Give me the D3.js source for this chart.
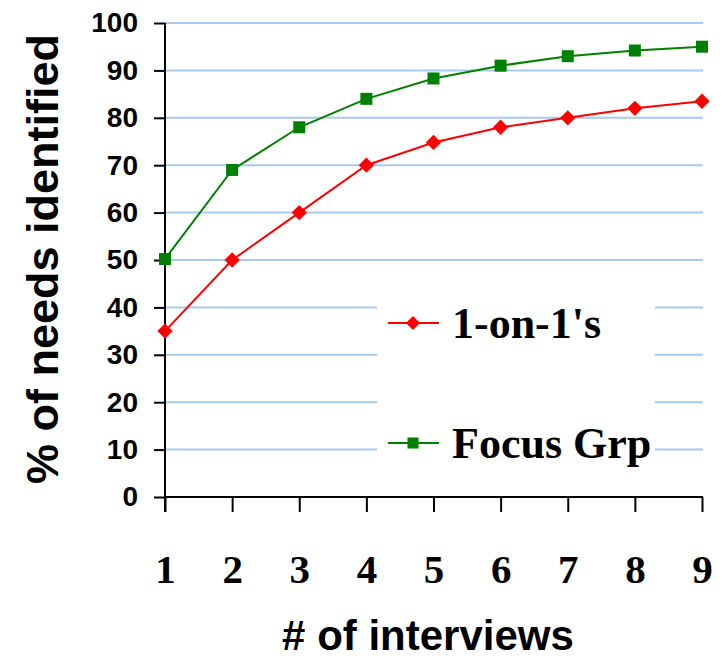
<!DOCTYPE html>
<html>
<head>
<meta charset="utf-8">
<script src="https://cdn.jsdelivr.net/npm/d3@7"></script>
<style>
  body { margin: 0; background: #fff; }
  svg { display: block; }
</style>
</head>
<body>
<svg id="drawing_region"></svg>
<script>
// data
const interviews = [1, 2, 3, 4, 5, 6, 7, 8, 9];
const oneOnOne = [35, 50, 60, 70, 74.8, 78, 80, 82, 83.5];
const focusGrp = [50.2, 69, 78, 84, 88.3, 91, 93, 94.2, 95];
const yTicks = [0, 10, 20, 30, 40, 50, 60, 70, 80, 90, 100];
const seriesNames = ["1-on-1's", "Focus Grp"];

const config = {
    width: 723,
    height: 658,
    margin: {top: 23, right: 21, bottom: 161, left: 165}
};

const svg = d3.select('#drawing_region')
    .attr('width', config.width)
    .attr('height', config.height);

const inner_width = config.width - config.margin.left - config.margin.right;
const inner_height = config.height - config.margin.top - config.margin.bottom;

const chart = svg.append('g')
    .attr('transform', `translate(${config.margin.left}, ${config.margin.top})`);

const xscale = d3.scaleLinear()
    .domain([1, 9])
    .range([0, inner_width]);

const yscale = d3.scaleLinear()
    .domain([0, 100])
    .range([inner_height, 0]);

// gridlines
chart.append('g')
    .selectAll('line')
    .data(yTicks.filter(d => d > 0))
    .enter()
    .append('line')
    .attr('x1', 0)
    .attr('x2', inner_width + 1)
    .attr('y1', d => yscale(d))
    .attr('y2', d => yscale(d))
    .attr('stroke', '#a9c9ef')
    .attr('stroke-width', 2);

// legend box (white, covers gridlines)
chart.append('rect')
    .attr('x', 377 - config.margin.left)
    .attr('y', 262 - config.margin.top)
    .attr('width', 278)
    .attr('height', 228)
    .attr('fill', '#fff');

// axes
const yaxis = d3.axisLeft(yscale)
    .tickValues(yTicks)
    .tickSize(11)
    .tickPadding(16);

const xaxis = d3.axisBottom(xscale)
    .tickValues(interviews)
    .tickSize(15)
    .tickPadding(42)
    .tickFormat(d3.format('d'));

const yaxis_group = chart.append('g').call(yaxis);
yaxis_group.select('.domain').remove();
yaxis_group.selectAll('.tick line').attr('stroke', '#000').attr('stroke-width', 2);
yaxis_group.selectAll('.tick text')
    .attr('fill', '#000')
    .style('font-family', '"Liberation Sans", Arial, sans-serif')
    .style('font-weight', 'bold')
    .style('font-size', '28px');

const xaxis_group = chart.append('g')
    .attr('transform', `translate(0, ${inner_height})`)
    .call(xaxis);
xaxis_group.select('.domain').remove();
xaxis_group.selectAll('.tick line').attr('stroke', '#000').attr('stroke-width', 2);
xaxis_group.selectAll('.tick text')
    .attr('fill', '#000')
    .style('font-family', '"Liberation Serif", "Times New Roman", serif')
    .style('font-weight', 'bold')
    .style('font-size', '41px');

// axis lines
chart.append('line')
    .attr('x1', 0).attr('x2', 0)
    .attr('y1', 0).attr('y2', inner_height + 15)
    .attr('stroke', '#000').attr('stroke-width', 2);
chart.append('line')
    .attr('x1', 0).attr('x2', inner_width + 1)
    .attr('y1', inner_height).attr('y2', inner_height)
    .attr('stroke', '#000').attr('stroke-width', 2);

// series
const line = d3.line()
    .x((d, i) => xscale(interviews[i]))
    .y(d => yscale(d));

const series = [
    {name: seriesNames[0], values: oneOnOne, color: '#ff0000', symbol: d3.symbolDiamond2, size: 150},
    {name: seriesNames[1], values: focusGrp, color: '#008000', symbol: d3.symbolSquare, size: 144}
];

series.forEach(s => {
    chart.append('path')
        .datum(s.values)
        .attr('d', line)
        .attr('fill', 'none')
        .attr('stroke', s.color)
        .attr('stroke-width', 2);

    chart.selectAll(null)
        .data(s.values)
        .enter()
        .append('path')
        .attr('transform', (d, i) => `translate(${xscale(interviews[i])}, ${yscale(d)})`)
        .attr('d', d3.symbol().type(s.symbol).size(s.size))
        .attr('fill', s.color);
});

// legend
const legend = svg.append('g');
series.forEach((s, i) => {
    const ly = [323, 443][i];
    const g = legend.append('g').attr('transform', `translate(388, ${ly})`);
    g.append('line')
        .attr('x1', 0).attr('x2', 51)
        .attr('y1', 0).attr('y2', 0)
        .attr('stroke', s.color).attr('stroke-width', 2);
    g.append('path')
        .attr('transform', 'translate(25, 0)')
        .attr('d', d3.symbol().type(s.symbol).size(s.size * 0.85))
        .attr('fill', s.color);
    g.append('text')
        .attr('x', 64)
        .attr('y', 15)
        .text(s.name)
        .style('font-family', '"Liberation Serif", "Times New Roman", serif')
        .style('font-weight', 'bold')
        .style('font-size', '44px');
});

// axis titles
svg.append('text')
    .attr('x', 428)
    .attr('y', 650)
    .attr('text-anchor', 'middle')
    .text('# of interviews')
    .style('font-family', '"Liberation Sans", Arial, sans-serif')
    .style('font-weight', 'bold')
    .style('font-size', '42px');

svg.append('text')
    .attr('transform', 'translate(58, 259) rotate(-90)')
    .attr('text-anchor', 'middle')
    .text('% of needs identified')
    .style('font-family', '"Liberation Sans", Arial, sans-serif')
    .style('font-weight', 'bold')
    .style('font-size', '45px');
</script>
</body>
</html>
